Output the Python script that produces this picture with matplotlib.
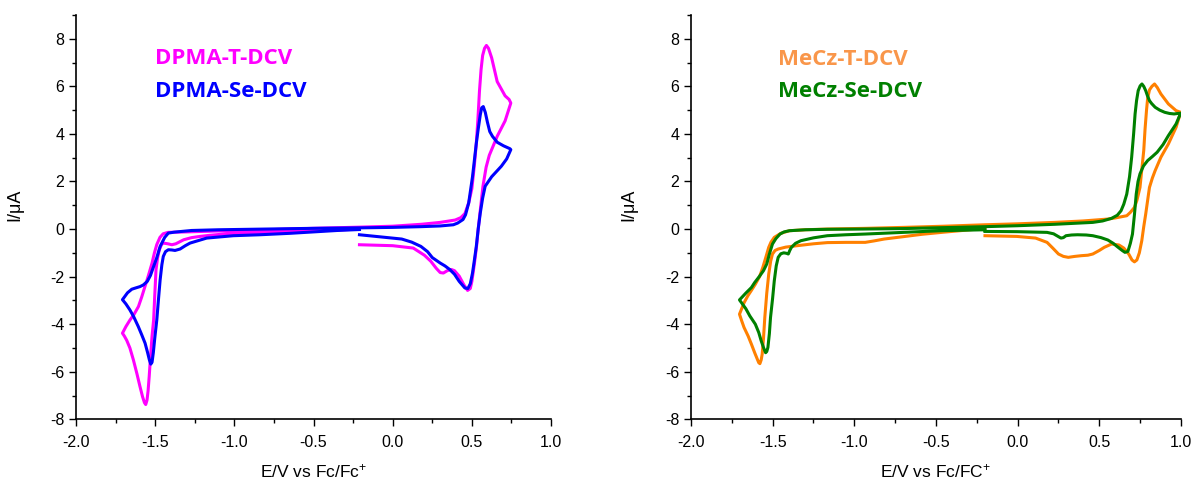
import matplotlib
matplotlib.use("Agg")
import matplotlib.pyplot as plt
from matplotlib.ticker import MultipleLocator

plt.rcParams['font.family'] = ['Liberation Sans', 'DejaVu Sans']
plt.rcParams['mathtext.fontset'] = 'custom'
plt.rcParams['mathtext.rm'] = 'Liberation Sans'
plt.rcParams['mathtext.it'] = 'Liberation Sans'
plt.rcParams['axes.unicode_minus'] = False

# DPMA-T-DCV (E in V, I in uA), traced as one loop
E_dpma_t = [-0.21, 0.0, 0.13, 0.20, 0.24, 0.275, 0.30, 0.32, 0.345, 0.37, 0.39, 0.42, 0.45, 0.473, 0.49, 0.50,
            0.516, 0.53, 0.54, 0.555, 0.57, 0.59, 0.61, 0.66, 0.71, 0.746,
            0.735, 0.71, 0.66, 0.625, 0.605, 0.592, 0.58, 0.568, 0.558, 0.548, 0.538, 0.528, 0.516, 0.50, 0.48,
            0.456, 0.43, 0.395, 0.30, 0.18, 0.0, -0.21, -0.5, -0.8, -1.1, -1.3, -1.42, -1.45, -1.47, -1.49,
            -1.505, -1.52, -1.545, -1.565, -1.585, -1.606, -1.635, -1.659, -1.685, -1.707,
            -1.695, -1.68, -1.66, -1.638, -1.615, -1.596, -1.58, -1.568, -1.56, -1.552, -1.545, -1.538, -1.53,
            -1.52, -1.51, -1.503, -1.495, -1.485, -1.474, -1.46, -1.449, -1.42, -1.395, -1.37, -1.32, -1.27,
            -1.217, -1.15, -1.048, -0.95, -0.838, -0.7, -0.5, -0.35, -0.21]
I_dpma_t = [-0.66, -0.7, -0.8, -1.1, -1.35, -1.65, -1.83, -1.85, -1.75, -1.7, -1.75, -1.98, -2.35, -2.58, -2.5, -2.2,
            -1.45, -0.7, 0.0, 0.9, 1.8, 2.6, 3.1, 3.9, 4.55, 5.3,
            5.45, 5.6, 6.2, 7.2, 7.6, 7.72, 7.6, 7.3, 6.7, 5.8, 4.6, 3.6, 2.7, 1.7, 1.1,
            0.65, 0.48, 0.38, 0.28, 0.2, 0.12, 0.08, 0.03, -0.03, -0.08, -0.12, -0.14, -0.2, -0.35, -0.65,
            -1.0, -1.43, -2.0, -2.42, -2.85, -3.26, -3.6, -3.82, -4.1, -4.38,
            -4.5, -4.68, -5.0, -5.5, -6.1, -6.63, -7.05, -7.3, -7.38, -7.2, -6.8, -6.2, -5.4,
            -4.5, -3.82, -2.8, -1.71, -1.2, -0.87, -0.65, -0.59, -0.62, -0.66, -0.62, -0.45, -0.36,
            -0.31, -0.26, -0.2, -0.17, -0.15, -0.12, -0.08, -0.04, 0.0]

# DPMA-Se-DCV
E_dpma_se = [-0.21, 0.057, 0.12, 0.178, 0.22, 0.25, 0.30, 0.33, 0.36, 0.39, 0.42, 0.456, 0.475, 0.49, 0.504,
             0.516, 0.528, 0.54, 0.553, 0.568, 0.584, 0.625, 0.686, 0.72, 0.746,
             0.74, 0.70, 0.66, 0.63, 0.613, 0.598, 0.585, 0.572, 0.562, 0.553, 0.54, 0.528, 0.516, 0.504, 0.48,
             0.46, 0.444, 0.41, 0.383, 0.3, 0.178, 0.0, -0.21, -0.5, -0.8, -1.1, -1.27, -1.38, -1.417, -1.44,
             -1.469, -1.49, -1.51, -1.53, -1.55, -1.575, -1.596, -1.625, -1.648, -1.675, -1.707,
             -1.685, -1.66, -1.635, -1.607, -1.585, -1.564, -1.548, -1.537, -1.528, -1.52, -1.512, -1.503,
             -1.49, -1.48, -1.469, -1.458, -1.449, -1.435, -1.417, -1.395, -1.375, -1.343, -1.31, -1.28,
             -1.175, -1.006, -0.838, -0.65, -0.5, -0.35, -0.21]
I_dpma_se = [-0.24, -0.42, -0.55, -0.73, -0.95, -1.2, -1.43, -1.55, -1.7, -1.9, -2.2, -2.48, -2.5, -2.3, -1.85,
             -1.3, -0.73, 0.0, 0.67, 1.3, 1.8, 2.2, 2.64, 2.95, 3.34,
             3.38, 3.5, 3.65, 3.9, 4.1, 4.5, 4.9, 5.15, 5.1, 4.8, 4.2, 3.6, 2.9, 2.2, 1.1,
             0.6, 0.4, 0.25, 0.18, 0.13, 0.1, 0.07, 0.05, 0.03, 0.0, -0.03, -0.06, -0.13, -0.17, -0.35,
             -0.73, -1.2, -1.57, -1.95, -2.2, -2.35, -2.42, -2.48, -2.53, -2.68, -2.97,
             -3.15, -3.4, -3.7, -4.1, -4.45, -4.8, -5.2, -5.5, -5.68, -5.6, -5.2, -4.6,
             -3.82, -3.0, -2.14, -1.5, -1.15, -0.95, -0.87, -0.88, -0.9, -0.84, -0.7, -0.59,
             -0.38, -0.28, -0.24, -0.18, -0.12, -0.06, -0.02]

# MeCz-T-DCV
E_mecz_t = [-0.2, -0.005, 0.11, 0.18, 0.215, 0.25, 0.28, 0.31, 0.35, 0.39, 0.43, 0.46, 0.50, 0.53, 0.575, 0.62,
            0.65, 0.68, 0.70, 0.715, 0.73, 0.745, 0.76, 0.772, 0.784, 0.807, 0.825, 0.842, 0.877, 0.923, 0.97, 0.998,
            0.97, 0.923, 0.877, 0.855, 0.838, 0.822, 0.807, 0.796, 0.789, 0.78, 0.772, 0.76, 0.749, 0.73, 0.715,
            0.69, 0.668, 0.6, 0.552, 0.4, 0.227, 0.0, -0.2, -0.45, -0.7, -0.93, -1.165, -1.30, -1.397, -1.45,
            -1.49, -1.51, -1.524, -1.54, -1.56, -1.58, -1.606, -1.63, -1.652, -1.675, -1.703,
            -1.69, -1.675, -1.65, -1.63, -1.61, -1.594, -1.585, -1.578, -1.57, -1.564, -1.556, -1.548, -1.536,
            -1.524, -1.512, -1.501, -1.485, -1.466, -1.42, -1.35, -1.25, -1.165, -1.05, -0.933, -0.88, -0.817,
            -0.7, -0.585, -0.45, -0.353, -0.2]
I_mecz_t = [-0.28, -0.31, -0.38, -0.56, -0.8, -1.05, -1.15, -1.19, -1.15, -1.12, -1.1, -1.05, -0.9, -0.77, -0.63, -0.67,
            -0.8, -1.05, -1.3, -1.38, -1.3, -1.0, -0.49, 0.1, 0.63, 1.75, 2.15, 2.46, 3.02, 3.58, 4.28, 4.91,
            4.98, 5.26, 5.68, 5.95, 6.1, 6.0, 5.85, 5.5, 5.0, 4.2, 3.3, 2.5, 1.75, 1.2, 0.91,
            0.7, 0.56, 0.47, 0.42, 0.34, 0.28, 0.22, 0.18, 0.12, 0.07, 0.03, 0.0, -0.03, -0.07, -0.18,
            -0.35, -0.55, -0.77, -1.15, -1.61, -2.0, -2.32, -2.58, -2.81, -3.1, -3.58,
            -3.85, -4.14, -4.5, -4.84, -5.2, -5.47, -5.62, -5.66, -5.5, -5.26, -4.6, -3.72, -2.7,
            -1.9, -1.35, -1.05, -0.9, -0.84, -0.76, -0.7, -0.62, -0.57, -0.56, -0.56, -0.5, -0.42,
            -0.32, -0.22, -0.13, -0.07, 0.03]

# MeCz-Se-DCV
E_mecz_se = [-0.2, -0.005, 0.18, 0.22, 0.245, 0.265, 0.28, 0.296, 0.33, 0.366, 0.42, 0.46, 0.51, 0.552, 0.585,
             0.61, 0.64, 0.657, 0.675, 0.69, 0.703, 0.715, 0.726, 0.737, 0.749, 0.77, 0.796, 0.825, 0.854, 0.89,
             0.923, 0.97, 0.998,
             0.98, 0.958, 0.93, 0.9, 0.87, 0.842, 0.82, 0.807, 0.795, 0.784, 0.772, 0.761, 0.75, 0.738, 0.728,
             0.719, 0.71, 0.698, 0.685, 0.668, 0.65, 0.633, 0.61, 0.575, 0.52, 0.46, 0.227, 0.0, -0.2, -0.45,
             -0.7, -0.95, -1.165, -1.3, -1.397, -1.43, -1.455, -1.48, -1.501, -1.52, -1.536, -1.556, -1.582,
             -1.61, -1.63, -1.665, -1.703,
             -1.685, -1.664, -1.64, -1.606, -1.585, -1.57, -1.555, -1.543, -1.536, -1.529, -1.52, -1.513, -1.5,
             -1.49, -1.478, -1.466, -1.45, -1.432, -1.415, -1.404, -1.395, -1.385, -1.36, -1.327, -1.25, -1.165,
             -1.05, -0.933, -0.7, -0.469, -0.2]
I_mecz_se = [-0.1, -0.11, -0.14, -0.2, -0.3, -0.38, -0.36, -0.28, -0.25, -0.24, -0.25, -0.28, -0.36, -0.46, -0.6,
             -0.74, -0.9, -0.98, -0.94, -0.6, -0.21, 0.6, 1.47, 2.0, 2.32, 2.65, 2.88, 3.05, 3.23, 3.55,
             3.93, 4.42, 4.87,
             4.86, 4.84, 4.86, 4.91, 5.0, 5.12, 5.28, 5.4, 5.6, 5.82, 6.0, 6.1, 6.02, 5.82, 5.4,
             4.84, 4.0, 3.02, 2.2, 1.47, 1.05, 0.77, 0.58, 0.45, 0.34, 0.28, 0.2, 0.14, 0.1, 0.06,
             0.02, 0.0, -0.01, -0.03, -0.07, -0.12, -0.21, -0.4, -0.63, -1.05, -1.47, -1.75, -2.0,
             -2.25, -2.46, -2.7, -2.98,
             -3.15, -3.35, -3.65, -4.0, -4.35, -4.7, -5.0, -5.2, -5.15, -4.98, -4.4, -3.72, -2.9,
             -2.18, -1.55, -1.19, -1.04, -1.0, -1.02, -1.05, -0.9, -0.77, -0.6, -0.49, -0.37, -0.28,
             -0.24, -0.21, -0.14, -0.07, -0.03]

fig = plt.figure(figsize=(11.94, 4.83), dpi=100)
ax1 = fig.add_axes([0.0637, 0.1319, 0.3978, 0.837])
ax2 = fig.add_axes([0.5787, 0.1319, 0.4104, 0.837])


def style_axis(ax, xlabel):
    ax.set_xlim(-2.0, 1.0)
    ax.set_ylim(-8, 9)
    ax.spines['top'].set_visible(False)
    ax.spines['right'].set_visible(False)
    ax.xaxis.set_major_locator(MultipleLocator(0.5))
    ax.xaxis.set_minor_locator(MultipleLocator(0.25))
    ax.yaxis.set_major_locator(MultipleLocator(2))
    ax.yaxis.set_minor_locator(MultipleLocator(1))
    ax.set_yticks([-8, -6, -4, -2, 0, 2, 4, 6, 8])
    ax.xaxis.set_major_formatter(plt.FormatStrFormatter('%.1f'))
    ax.tick_params(which='major', direction='out', length=5, width=1, labelsize=11.5)
    ax.tick_params(which='minor', direction='out', length=3, width=1)
    ax.tick_params(axis='x', pad=6)
    ax.set_xlabel(xlabel, fontsize=12.5, labelpad=9)
    ax.set_ylabel('I/μA', fontsize=13)
    ax.yaxis.set_label_coords(-0.11, 0.53)
    for s in ax.spines.values():
        s.set_linewidth(1.2)


ax1.plot(E_dpma_t, I_dpma_t, color='#FF00FF', lw=2.2)
ax1.plot(E_dpma_se, I_dpma_se, color='#0000FF', lw=2.2)
ax1.text(-1.5, 7.17, 'DPMA-T-DCV', color='#FF00FF', fontsize=16, fontweight='bold',
         family='Open Sans', va='center')
ax1.text(-1.5, 5.78, 'DPMA-Se-DCV', color='#0000FF', fontsize=16, fontweight='bold',
         family='Open Sans', va='center')
style_axis(ax1, 'E/V vs Fc/Fc$^{+}$')

ax2.plot(E_mecz_t, I_mecz_t, color='#FF8000', lw=2.2)
ax2.plot(E_mecz_se, I_mecz_se, color='#008000', lw=2.2)
ax2.text(-1.47, 7.13, 'MeCz-T-DCV', color='#F9964A', fontsize=16, fontweight='bold',
         family='Open Sans', va='center')
ax2.text(-1.47, 5.79, 'MeCz-Se-DCV', color='#008000', fontsize=16, fontweight='bold',
         family='Open Sans', va='center')
style_axis(ax2, 'E/V vs Fc/FC$^{+}$')

fig.savefig('out.png', dpi=100)
